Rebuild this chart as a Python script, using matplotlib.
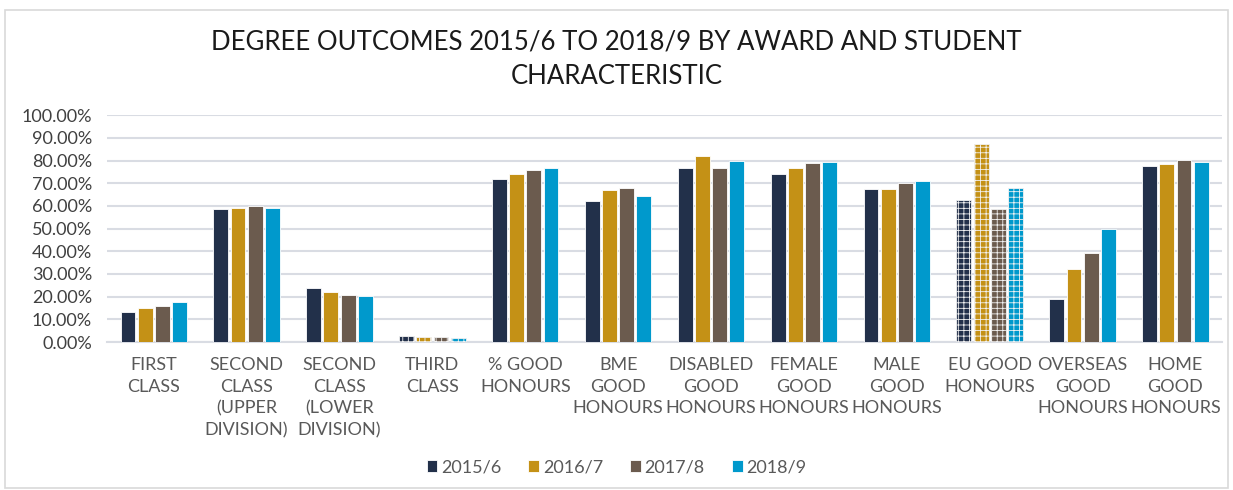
import matplotlib
matplotlib.use("Agg")
import matplotlib.pyplot as plt
import numpy as np
from matplotlib.patches import Rectangle

categories = ["FIRST\nCLASS", "SECOND\nCLASS\n(UPPER\nDIVISION)", "SECOND\nCLASS\n(LOWER\nDIVISION)",
              "THIRD\nCLASS", "% GOOD\nHONOURS", "BME\nGOOD\nHONOURS", "DISABLED\nGOOD\nHONOURS",
              "FEMALE\nGOOD\nHONOURS", "MALE\nGOOD\nHONOURS", "EU GOOD\nHONOURS",
              "OVERSEAS\nGOOD\nHONOURS", "HOME\nGOOD\nHONOURS"]
years = ["2015/6", "2016/7", "2017/8", "2018/9"]
v2015 = [13.1, 58.6, 23.9, 2.8, 71.9, 62.3, 76.7, 74.2, 67.6, 62.7, 18.8, 77.7]
v2016 = [14.9, 59.0, 22.1, 2.3, 74.1, 67.1, 81.9, 76.7, 67.6, 87.2, 32.2, 78.6]
v2017 = [15.8, 59.9, 20.8, 2.3, 75.8, 68.0, 76.7, 79.1, 70.1, 58.6, 39.4, 80.4]
v2018 = [17.7, 59.0, 20.2, 1.9, 76.7, 64.5, 80.0, 79.5, 70.8, 68.1, 49.9, 79.5]
hatched = ["THIRD\nCLASS", "EU GOOD\nHONOURS"]

colors = ["#22304A", "#C49116", "#6B5B4E", "#0099CC"]
series = [v2015, v2016, v2017, v2018]

plt.rcParams['font.family'] = ['Lato', 'DejaVu Sans']
plt.rcParams['hatch.linewidth'] = 0.6

fig = plt.figure(figsize=(12.33, 4.9), dpi=100)
ax = fig.add_axes([0.087, 0.302, 0.904, 0.463])

fig.patches.append(Rectangle((0.004, 0.004), 0.992, 0.976, transform=fig.transFigure,
                             fill=False, edgecolor="#D9D9D9", lw=1.2))

x = np.arange(len(categories))
width = 0.16
step = 0.185
for i, (vals, c) in enumerate(zip(series, colors)):
    pos = x + (i - 1.5) * step
    bars = ax.bar(pos, vals, width, color=c, edgecolor="white", lw=0.6, label=years[i], zorder=3)
    for b, cat in zip(bars, categories):
        if cat in hatched:
            b.set_hatch("+++")
            b.set_edgecolor("#F2F2F2")

ax.set_ylim(0, 100)
ax.set_xlim(-0.5, len(categories) - 0.5)
ax.set_yticks(np.arange(0, 101, 10))
ax.set_yticklabels(["%.2f%%" % v for v in np.arange(0, 101, 10)], fontsize=13, color="#404040")
ax.set_xticks(x)
ax.set_xticklabels(categories, fontsize=13, color="#595959", linespacing=1.42)
ax.tick_params(length=0, pad=11)
ax.grid(axis="y", color="#D9DCE3", lw=1.5, zorder=0)
for s in ["top", "right", "left"]:
    ax.spines[s].set_visible(False)
ax.spines["bottom"].set_color("#D9DCE3")
ax.spines["bottom"].set_linewidth(1.5)

fig.suptitle("DEGREE OUTCOMES 2015/6 TO 2018/9 BY AWARD AND STUDENT\nCHARACTERISTIC",
             y=0.94, fontsize=18.5, color="#1A1A1A", linespacing=1.5)

handles, labels = ax.get_legend_handles_labels()
leg = fig.legend(handles, labels, loc="center", bbox_to_anchor=(0.5, 0.046), ncol=4, frameon=False,
                 fontsize=13, handlelength=0.6, handleheight=0.6, handletextpad=0.2, columnspacing=1.5)
for t in leg.get_texts():
    t.set_color("#595959")

fig.savefig("out.png", dpi=100)
